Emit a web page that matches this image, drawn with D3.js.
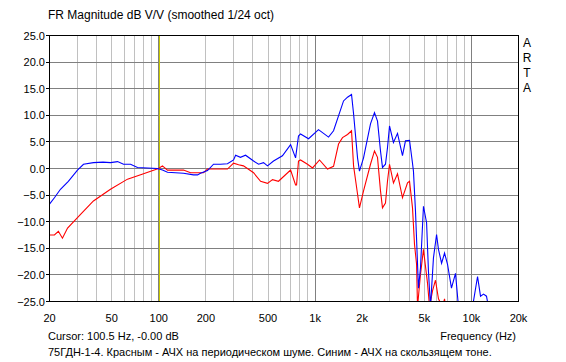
<!DOCTYPE html>
<html>
<head>
<meta charset="utf-8">
<script src="https://cdn.jsdelivr.net/npm/d3@7"></script>
<style>
  body { margin: 0; background: #fff; }
  text { font-family: "Liberation Sans", Arial, sans-serif; font-size: 11px; fill: #000; }
  .title { font-size: 12px; }
</style>
</head>
<body>
<div id="chart"></div>
<script>
// values
var dbTicks = [25, 20, 15, 10, 5, 0, -5, -10, -15, -20, -25];
var freqTicks = [20, 50, 100, 200, 500, 1000, 2000, 5000, 10000, 20000];
var freqLabels = ["20", "50", "100", "200", "500", "1k", "2k", "5k", "10k", "20k"];
var gridFreqs = [30, 40, 50, 60, 70, 80, 90, 100, 200, 300, 400, 500, 600, 700, 800, 900,
  1000, 2000, 3000, 4000, 5000, 6000, 7000, 8000, 9000, 10000];
var majorFreqs = [100, 1000, 10000];
var cursorFreq = 100.5;

// blue - sweep
var blueFreq = [20, 21.5, 23.5, 26.4, 30.2, 33, 38.2, 44, 49.1, 54.5, 59.5, 66, 73.1, 84.7, 98.1,
  105.6, 113.7, 143.9, 166.8, 177, 184.9, 205, 224, 248, 275, 301, 310, 333, 359, 404, 435,
  468, 496, 542, 618, 697, 750, 783, 807, 908, 1051, 1219, 1312, 1520, 1612, 1710, 1762,
  1868, 1922, 2041, 2261, 2398, 2507, 2620, 2698, 2819, 2904, 2992, 3171, 3366, 3622, 3785,
  4018, 4180, 4257, 4386, 4583, 4721, 4933, 5165, 5310, 5470, 5715, 5984, 6153, 6442, 6730,
  7031, 7451, 7908, 8263, 10163, 10942, 11430, 11950, 12480, 12850];
var blueDb = [-6.7, -5.5, -3.9, -2.4, -0.3, 0.8, 1.1, 1.2, 1.1, 1.3, 0.8, 0.8, 0.2, 0.1, 0,
  -0.3, -0.7, -0.9, -1.2, -1.2, -0.9, -0.4, 0.8, 0.8, 0.9, 1.6, 2.5, 2.1, 2.5, 1.4, 0.8,
  1.1, 0.5, 1.4, 2.4, 4.5, 2.0, 6.1, 6.5, 5.6, 7.3, 5.9, 7.1, 12.7, 13.4, 13.9, 10.3,
  2.0, -0.5, 2.0, 8.4, 10.5, 8.9, 3.3, 0.2, 0.8, 3.9, 8.0, 4.9, 6.6, 2.4, 5.2,
  5.3, 1.4, -0.5, -8, -22.5, -18.7, -7.1, -10.2, -19.3, -26, -16.8, -12.4, -15.2, -17.8, -15.9,
  -18, -22.5, -19.7, -26, -26, -20.3, -24, -23.6, -24, -26];

// red - periodic noise
var redFreq = [20, 21.5, 22.8, 24.2, 26.1, 31.6, 38.2, 49.1, 63.1, 79.9, 99.6, 105.6, 113.7,
  143.9, 159.6, 193.2, 205, 275, 301, 324, 348, 404, 448, 496, 534, 583, 697, 750, 761,
  783, 807, 894, 963, 1067, 1200, 1312, 1412, 1497, 1612, 1710, 1762, 1868, 1922, 2041,
  2261, 2398, 2507, 2620, 2698, 2819, 2904, 2992, 3171, 3366, 3622, 3900, 4018, 4198,
  4324, 4457, 4519, 4721, 4933, 5237, 5396, 5637, 5888, 6153, 6532, 6730, 6826];
var redDb = [-12.5, -12.5, -11.8, -13.1, -11.2, -8.6, -6.1, -3.9, -2.0, -1.0, 0, 0.5, -0.3,
  -0.3, -0.8, -0.8, -0.1, -0.1, 1.0, 0.7, 0.5, -0.8, -2.4, -2.8, -2.1, -2.4, -0.3, -3.1, -3.1,
  1.4, 1.6, 0.8, 0.1, 1.6, -0.1, 0.4, 4.6, 5.8, 6.4, 7.1, 0.5, -4.8, -7.4, -4.2,
  0.8, 3.3, 2.1, -4.2, -7.4, -6.5, -2.4, 0.8, -2.7, -1.0, -5.5, -2.7, -2.4, -7.4,
  -14.3, -18, -26, -19.9, -15.2, -21.6, -26, -23, -21, -24.5, -26, -24.5, -26];

var W = 566, H = 362;
var svg = d3.select("#chart").append("svg").attr("width", W).attr("height", H);

var x = d3.scaleLog().domain([20, 20000]).range([49.5, 518.5]);
var y = d3.scaleLinear().domain([-25, 25]).range([301.5, 35.5]);

svg.append("defs").append("clipPath").attr("id", "plot")
  .append("rect").attr("x", 49.5).attr("y", 35.5).attr("width", 469).attr("height", 266);

function px(v) { return Math.round(v - 0.5) + 0.5; }

// vertical grid
svg.append("g").selectAll("line").data(gridFreqs).enter().append("line")
  .attr("x1", function (d) { return px(x(d)); })
  .attr("x2", function (d) { return px(x(d)); })
  .attr("y1", 35.5).attr("y2", 301.5)
  .attr("stroke", function (d) { return majorFreqs.indexOf(d) >= 0 ? "#808080" : "#c0c0c0"; })
  .attr("stroke-width", 1);

// horizontal grid
svg.append("g").selectAll("line").data(dbTicks).enter().append("line")
  .attr("x1", 49.5).attr("x2", 518.5)
  .attr("y1", function (d) { return px(y(d)); })
  .attr("y2", function (d) { return px(y(d)); })
  .attr("stroke", "#808080");

// cursor
svg.append("line")
  .attr("x1", px(x(cursorFreq))).attr("x2", px(x(cursorFreq)))
  .attr("y1", 35.5).attr("y2", 301.5)
  .attr("stroke", "#c8c800");

var line = d3.line()
  .x(function (d) { return x(d[0]); })
  .y(function (d) { return y(d[1]); });

var red = d3.zip(redFreq, redDb);
var blue = d3.zip(blueFreq, blueDb);

var curves = svg.append("g").attr("clip-path", "url(#plot)");
curves.append("path").datum(red).attr("d", line)
  .attr("fill", "none").attr("stroke", "#ff0000").attr("stroke-width", 1.1);
curves.append("path").datum(blue).attr("d", line)
  .attr("fill", "none").attr("stroke", "#0000ff").attr("stroke-width", 1.1);

// frame
svg.append("rect").attr("x", 49.5).attr("y", 35.5).attr("width", 469).attr("height", 266)
  .attr("fill", "none").attr("stroke", "#000");

// y axis ticks + labels
var yAxis = svg.append("g");
yAxis.selectAll("line").data(dbTicks).enter().append("line")
  .attr("x1", 46).attr("x2", 49.5)
  .attr("y1", function (d) { return px(y(d)); })
  .attr("y2", function (d) { return px(y(d)); })
  .attr("stroke", "#000");
yAxis.selectAll("text").data(dbTicks).enter().append("text")
  .attr("x", 45).attr("y", function (d) { return y(d) + 4; })
  .attr("text-anchor", "end")
  .text(function (d) { return d3.format(".1f")(d); });

// x labels
svg.append("g").selectAll("text").data(freqTicks).enter().append("text")
  .attr("x", function (d) { return x(d); }).attr("y", 322)
  .attr("text-anchor", "middle")
  .text(function (d, i) { return freqLabels[i]; });

svg.append("text").attr("class", "title").attr("x", 48).attr("y", 19)
  .text("FR Magnitude dB V/V (smoothed 1/24 oct)");
svg.append("text").attr("x", 48).attr("y", 340).text("Cursor: 100.5 Hz, -0.00 dB");
svg.append("text").attr("x", 516).attr("y", 340).attr("text-anchor", "end").text("Frequency (Hz)");
svg.append("text").attr("x", 48).attr("y", 356)
  .text("75ГДН-1-4. Красным - АЧХ на периодическом шуме. Синим - АЧХ на скользящем тоне.");

svg.append("g").selectAll("text").data(["A", "R", "T", "A"]).enter().append("text")
  .attr("class", "title")
  .attr("x", 527).attr("y", function (d, i) { return 47 + i * 15; })
  .attr("text-anchor", "middle")
  .text(function (d) { return d; });
</script>
</body>
</html>
